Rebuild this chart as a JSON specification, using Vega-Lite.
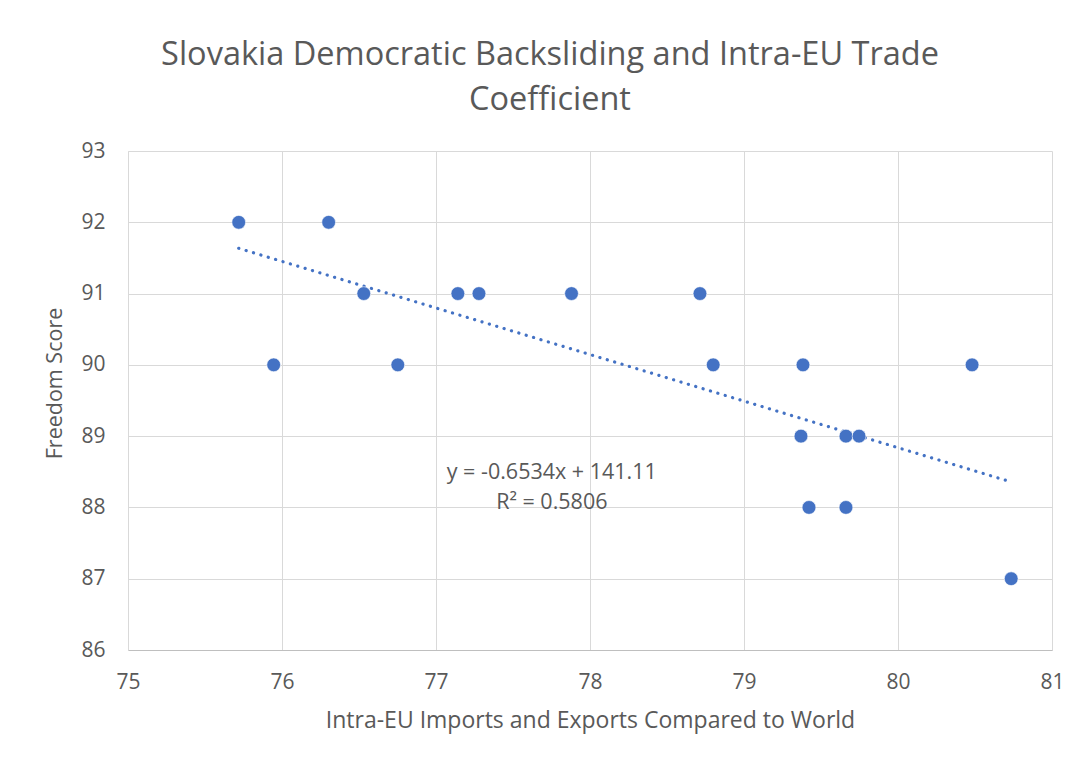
{
  "$schema": "https://vega.github.io/schema/vega-lite/v6.json",
  "autosize": "none",
  "width": 924,
  "height": 499,
  "padding": {"left": 128, "top": 151, "right": 34, "bottom": 113},
  "background": "white",
  "config": {
    "font": "Open Sans",
    "view": {"stroke": null}
  },
  "title": {
    "text": ["Slovakia Democratic Backsliding and Intra-EU Trade", "Coefficient"],
    "anchor": "middle",
    "frame": "group",
    "dx": -40,
    "offset": 8,
    "baseline": "middle",
    "lineHeight": 45,
    "fontSize": 32.5,
    "fontWeight": "normal",
    "font": "Open Sans",
    "color": "#595959"
  },
  "datasets": {
    "points": [
      {"trade": 75.719, "freedom": 92},
      {"trade": 75.946, "freedom": 90},
      {"trade": 76.303, "freedom": 92},
      {"trade": 76.531, "freedom": 91},
      {"trade": 76.752, "freedom": 90},
      {"trade": 77.142, "freedom": 91},
      {"trade": 77.279, "freedom": 91},
      {"trade": 77.880, "freedom": 91},
      {"trade": 78.714, "freedom": 91},
      {"trade": 78.800, "freedom": 90},
      {"trade": 79.383, "freedom": 90},
      {"trade": 79.370, "freedom": 89},
      {"trade": 79.422, "freedom": 88},
      {"trade": 79.662, "freedom": 89},
      {"trade": 79.747, "freedom": 89},
      {"trade": 79.662, "freedom": 88},
      {"trade": 80.481, "freedom": 90},
      {"trade": 80.735, "freedom": 87}
    ],
    "trend": [
      {"trade": 75.719, "freedom": 91.6352},
      {"trade": 80.735, "freedom": 88.3578}
    ]
  },
  "layer": [
    {
      "data": {"name": "trend"},
      "mark": {
        "type": "line",
        "color": "#4472C4",
        "strokeWidth": 3.2,
        "strokeCap": "round",
        "strokeDash": [0.1, 7.6]
      },
      "encoding": {
        "x": {
          "field": "trade",
          "type": "quantitative",
          "scale": {"domain": [75, 81], "nice": false, "zero": false},
          "axis": {
            "values": [75, 76, 77, 78, 79, 80, 81],
            "format": "d",
            "title": "Intra-EU Imports and Exports Compared to World",
            "grid": true,
            "gridColor": "#d9d9d9",
            "gridWidth": 1,
            "domainColor": "#bfbfbf",
            "domainWidth": 1.2,
            "ticks": false,
            "labelFontSize": 21,
            "labelColor": "#595959",
            "labelPadding": 32,
            "labelBaseline": "middle",
            "labelFlush": false,
            "titleFontSize": 23,
            "titleFontWeight": "normal",
            "titleColor": "#595959",
            "titleY": 70,
            "titleBaseline": "middle"
          }
        },
        "y": {
          "field": "freedom",
          "type": "quantitative",
          "scale": {"domain": [86, 93], "nice": false, "zero": false},
          "axis": {
            "values": [86, 87, 88, 89, 90, 91, 92, 93],
            "format": "d",
            "title": "Freedom Score",
            "grid": true,
            "gridColor": "#d9d9d9",
            "gridWidth": 1,
            "domainColor": "#d9d9d9",
            "ticks": false,
            "labelFontSize": 21,
            "labelColor": "#595959",
            "labelPadding": 23,
            "labelBaseline": "middle",
            "labelFlush": false,
            "titleFontSize": 21.5,
            "titleFontWeight": "normal",
            "titleColor": "#595959",
            "titleAngle": -90,
            "titleX": -73,
            "titleY": 232,
            "titleAlign": "center",
            "titleBaseline": "middle"
          }
        }
      }
    },
    {
      "data": {"name": "points"},
      "mark": {"type": "circle", "color": "#4472C4", "opacity": 1, "size": 190, "stroke": "white", "strokeWidth": 0.6},
      "encoding": {
        "x": {"field": "trade", "type": "quantitative"},
        "y": {"field": "freedom", "type": "quantitative"}
      }
    },
    {
      "data": {"values": [{"label": "y = -0.6534x + 141.11"}]},
      "mark": {"type": "text", "fontSize": 21.5, "color": "#595959", "align": "center", "baseline": "middle"},
      "encoding": {
        "x": {"datum": 77.752, "type": "quantitative"},
        "y": {"datum": 88.484, "type": "quantitative"},
        "text": {"field": "label"}
      }
    },
    {
      "data": {"values": [{"label": "R² = 0.5806"}]},
      "mark": {"type": "text", "fontSize": 21.5, "color": "#595959", "align": "center", "baseline": "middle"},
      "encoding": {
        "x": {"datum": 77.752, "type": "quantitative"},
        "y": {"datum": 88.063, "type": "quantitative"},
        "text": {"field": "label"}
      }
    }
  ]
}
